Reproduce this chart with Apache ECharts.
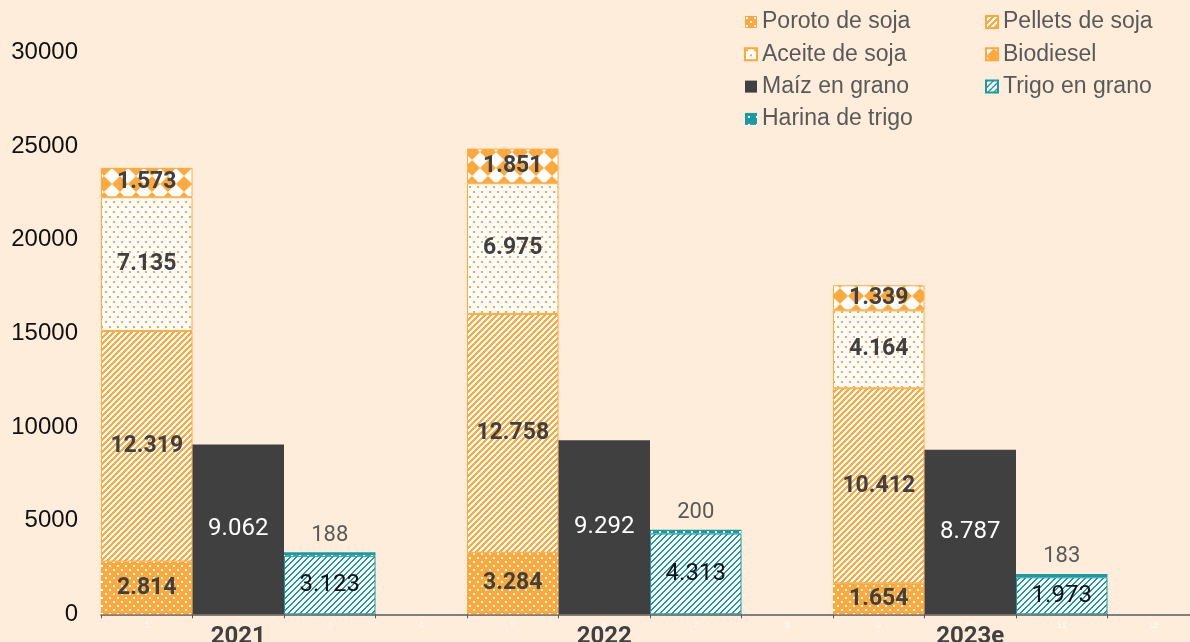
<!DOCTYPE html>
<html>
<head>
<meta charset="utf-8">
<script src="https://cdn.jsdelivr.net/npm/echarts@6/dist/echarts.min.js"></script>
<style>
  html, body { margin: 0; padding: 0; background: #FEEDDB; }
  #chart { width: 1190px; height: 642px; }
</style>
</head>
<body>
<div id="chart"></div>
<script>
// datos (miles de toneladas)
var years = ['2021', '2022', '2023e'];
var poroto = [2814, 3284, 1654];
var pellets = [12319, 12758, 10412];
var aceite = [7135, 6975, 4164];
var biodiesel = [1573, 1851, 1339];
var maiz = [9062, 9292, 8787];
var trigo = [3123, 4313, 1973];
var harina = [188, 200, 183];
var yTicks = [0, 5000, 10000, 15000, 20000, 25000, 30000];

var ORANGE = '#FFA83C';
var TEAL = '#1A9AA6';
var DARK = '#404040';

// 12 ranuras: 3 por año + 1 vacía
var slotLabels = [];
var yearSlots = [];
for (var i = 0; i < 12; i++) {
    slotLabels.push(String(i + 1));
    yearSlots.push(i % 4 === 1 ? years[Math.floor(i / 4)] : '');
}

function toSlots(values, offset) {
    var out = [];
    for (var i = 0; i < 12; i++) out.push('-');
    values.forEach(function(v, k) { out[k * 4 + offset] = v; });
    return out;
}

function fmt(v) {
    return String(v).replace(/\B(?=(\d{3})+(?!\d))/g, '.');
}

function pattern(w, h, bg, draw) {
    var c = document.createElement('canvas');
    c.width = w; c.height = h;
    var ctx = c.getContext('2d');
    ctx.fillStyle = bg;
    ctx.fillRect(0, 0, w, h);
    draw(ctx);
    return { image: c, repeat: 'repeat' };
}

function stripes(period, thick, bg, fg) {
    return pattern(period, period, bg, function(ctx) {
        ctx.fillStyle = fg;
        for (var x = 0; x < period; x++)
            for (var y = 0; y < period; y++)
                if ((x + y) % period < thick) ctx.fillRect(x, y, 1, 1);
    });
}

var porotoFill = pattern(8, 8, ORANGE, function(ctx) {
    ctx.fillStyle = '#fff';
    ctx.fillRect(1, 1, 2, 2);
    ctx.fillRect(5, 5, 2, 2);
});
var pelletsFill = stripes(6, 3, '#fff', ORANGE);
var aceiteFill = pattern(8, 10, '#fff', function(ctx) {
    ctx.fillStyle = ORANGE;
    ctx.fillRect(1, 1, 2, 2);
    ctx.fillRect(5, 6, 2, 2);
});
var biodieselFill = pattern(16, 16, '#fff', function(ctx) {
    ctx.fillStyle = ORANGE;
    ctx.beginPath();
    ctx.moveTo(8, 0); ctx.lineTo(16, 8); ctx.lineTo(8, 16); ctx.lineTo(0, 8);
    ctx.closePath();
    ctx.fill();
});
var trigoFill = stripes(6, 2, '#fff', TEAL);
var harinaFill = pattern(8, 8, TEAL, function(ctx) {
    ctx.fillStyle = '#fff';
    ctx.fillRect(3, 3, 2, 2);
});

var boldLabel = {
    show: true, position: 'inside', color: DARK,
    fontFamily: 'Roboto', fontWeight: 'bold', fontSize: 23,
    formatter: function(p) { return fmt(p.value); }
};

function bar(name, values, offset, fill, border, label) {
    return {
        name: name, type: 'bar', stack: 'total',
        xAxisIndex: 0,
        data: toSlots(values, offset),
        barWidth: '100%',
        itemStyle: { color: fill, borderColor: border, borderWidth: border ? 1 : 0 },
        label: label,
        emphasis: { disabled: true }
    };
}

var legendText = { fontFamily: 'Liberation Sans', fontSize: 23, color: '#595959' };

var chart = echarts.init(document.getElementById('chart'));
var option = {
    backgroundColor: '#FEEDDB',
    animation: false,
    grid: { left: 101, width: 1098, top: 52.5, bottom: 27.7, outerBoundsMode: 'none', containLabel: false },
    legend: [
        {
            orient: 'vertical', left: 744, top: 10.5, itemGap: 9.3, padding: 0,
            itemWidth: 12, itemHeight: 12, icon: 'rect',
            textStyle: legendText,
            data: ['Poroto de soja', 'Aceite de soja', 'Maíz en grano', 'Harina de trigo']
        },
        {
            orient: 'vertical', left: 985, top: 10.5, itemGap: 9.3, padding: 0,
            itemWidth: 12, itemHeight: 12, icon: 'rect',
            textStyle: legendText,
            data: ['Pellets de soja', 'Biodiesel', 'Trigo en grano']
        }
    ],
    xAxis: [
        {
            type: 'category', data: slotLabels,
            axisLine: { lineStyle: { color: '#595959', width: 1.5 } },
            axisTick: { show: true, length: 4, lineStyle: { color: '#595959' } },
            axisLabel: { color: 'rgba(255,255,255,0.85)', fontSize: 9, margin: 7, interval: 0 }
        },
        {
            type: 'category', data: yearSlots, position: 'bottom',
            axisLine: { show: false }, axisTick: { show: false },
            axisLabel: { color: DARK, fontFamily: 'Roboto', fontWeight: 'bold', fontSize: 24, margin: 11, interval: 0 }
        }
    ],
    yAxis: {
        type: 'value', min: 0, max: 30000, interval: 5000,
        axisLine: { show: false }, axisTick: { show: false },
        splitLine: { show: false },
        axisLabel: {
            color: '#111', fontFamily: 'Liberation Sans', fontSize: 24, margin: 23,
            formatter: function(v) { return yTicks.indexOf(v) >= 0 ? String(v) : ''; }
        }
    },
    series: [
        bar('Poroto de soja', poroto, 0, porotoFill, null, boldLabel),
        bar('Pellets de soja', pellets, 0, pelletsFill, ORANGE, boldLabel),
        bar('Aceite de soja', aceite, 0, aceiteFill, ORANGE, boldLabel),
        bar('Biodiesel', biodiesel, 0, biodieselFill, ORANGE, boldLabel),
        bar('Maíz en grano', maiz, 1, DARK, null, {
            show: true, position: 'inside', color: '#fff',
            fontFamily: 'Roboto', fontSize: 24,
            formatter: function(p) { return fmt(p.value); }
        }),
        bar('Trigo en grano', trigo, 2, trigoFill, TEAL, {
            show: true, position: 'inside', color: '#111',
            fontFamily: 'Roboto', fontSize: 24,
            formatter: function(p) { return fmt(p.value); }
        }),
        bar('Harina de trigo', harina, 2, harinaFill, null, {
            show: true, position: 'top', color: '#595959', distance: 6,
            fontFamily: 'Roboto', fontSize: 22,
            formatter: function(p) { return fmt(p.value); }
        })
    ]
};
chart.setOption(option);
</script>
</body>
</html>
